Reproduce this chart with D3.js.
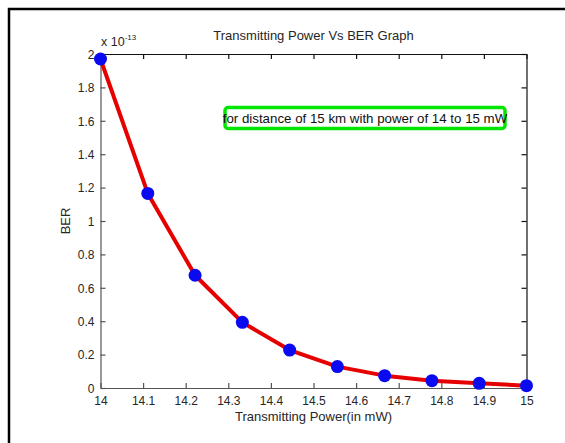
<!DOCTYPE html>
<html>
<head>
<meta charset="utf-8">
<script src="https://cdnjs.cloudflare.com/ajax/libs/d3/7.8.5/d3.min.js"></script>
<style>
  body { margin:0; background:#fff; }
  text { font-family: "Liberation Sans", Arial, sans-serif; fill:#262626; }
</style>
</head>
<body>
<div id="chart"></div>
<script>
// power values (mW) and BER (x 1e-13)
var power = [14, 14.111, 14.222, 14.333, 14.444, 14.556, 14.667, 14.778, 14.889, 15];
var ber = [1.97, 1.165, 0.675, 0.393, 0.227, 0.128, 0.074, 0.044, 0.028, 0.014];
var xTicks = [14, 14.1, 14.2, 14.3, 14.4, 14.5, 14.6, 14.7, 14.8, 14.9, 15];
var yTicks = [0, 0.2, 0.4, 0.6, 0.8, 1, 1.2, 1.4, 1.6, 1.8, 2];

var width = 565, height = 443;
var margin = {top: 54, right: 38.5, bottom: 55, left: 100.5};

var svg = d3.select("#chart").append("svg")
    .attr("width", width)
    .attr("height", height);

// outer frame (only top and left edges are visible in the crop)
svg.append("path")
    .attr("d", "M9,443 V9 H565")
    .style("fill", "none")
    .style("stroke", "#000")
    .style("stroke-width", 2.5);

var x = d3.scaleLinear()
    .domain([14, 15])
    .range([margin.left, width - margin.right]);
var y = d3.scaleLinear()
    .domain([0, 2])
    .range([height - margin.bottom, margin.top]);

var tickFmt = function(d) { return d3.format("~g")(d); };

// bottom axis
var xAxis = svg.append("g")
    .attr("transform", "translate(0," + y(0) + ")")
    .call(d3.axisBottom(x).tickValues(xTicks).tickSizeInner(-5).tickSizeOuter(0).tickPadding(8).tickFormat(tickFmt));
// left axis
var yAxis = svg.append("g")
    .attr("transform", "translate(" + x(14) + ",0)")
    .call(d3.axisLeft(y).tickValues(yTicks).tickSizeInner(-5).tickSizeOuter(0).tickPadding(6).tickFormat(tickFmt));
// top and right (box)
var xTop = svg.append("g")
    .attr("transform", "translate(0," + y(2) + ")")
    .call(d3.axisTop(x).tickValues(xTicks).tickSizeInner(-5).tickSizeOuter(0).tickFormat(""));
var yRight = svg.append("g")
    .attr("transform", "translate(" + x(15) + ",0)")
    .call(d3.axisRight(y).tickValues(yTicks).tickSizeInner(-5).tickSizeOuter(0).tickFormat(""));

[xAxis, yAxis].forEach(function(g) {
  g.selectAll("path, line").style("stroke", "#555").style("stroke-width", 1.2);
  g.selectAll("text").style("font-size", "12px").style("fill", "#262626")
    .style("font-family", "'Liberation Sans', Arial, sans-serif");
});
[xTop, yRight].forEach(function(g) {
  g.selectAll("path, line").style("stroke", "#111").style("stroke-width", 1.2);
});
yAxis.selectAll("text").attr("dy", "0.35em");

// curve
var line = d3.line()
    .x(function(d, i) { return x(power[i]); })
    .y(function(d) { return y(d); });

svg.append("path")
    .datum(ber)
    .attr("d", line)
    .style("fill", "none")
    .style("stroke", "#e60000")
    .style("stroke-width", 4)
    .style("stroke-linejoin", "round");

svg.selectAll(".pt")
    .data(ber)
    .enter().append("circle")
    .attr("class", "pt")
    .attr("cx", function(d, i) { return x(power[i]); })
    .attr("cy", function(d) { return y(d); })
    .attr("r", 6.5)
    .style("fill", "#0a0af0");

// exponent label
var ex = svg.append("text")
    .attr("x", 101)
    .attr("y", 46)
    .style("font-size", "12.5px");
ex.append("tspan").text("x 10");
ex.append("tspan").attr("dy", -6).style("font-size", "8px").text("-13");

// title and axis labels
svg.append("text")
    .attr("x", (x(14) + x(15)) / 2)
    .attr("y", 40)
    .attr("text-anchor", "middle")
    .style("font-size", "13px")
    .text("Transmitting Power Vs BER Graph");

svg.append("text")
    .attr("x", (x(14) + x(15)) / 2)
    .attr("y", 421)
    .attr("text-anchor", "middle")
    .style("font-size", "13px")
    .text("Transmitting Power(in mW)");

svg.append("text")
    .attr("transform", "translate(70," + y(1) + ") rotate(-90)")
    .attr("text-anchor", "middle")
    .style("font-size", "13px")
    .text("BER");

// annotation box
svg.append("rect")
    .attr("x", 225)
    .attr("y", 107.5)
    .attr("width", 280)
    .attr("height", 21)
    .attr("rx", 3)
    .style("fill", "#fff")
    .style("stroke", "#00e600")
    .style("stroke-width", 3.5);

svg.append("text")
    .attr("x", 365)
    .attr("y", 123)
    .attr("text-anchor", "middle")
    .style("font-size", "13.3px")
    .style("fill", "#111")
    .text("for distance of 15 km with power of 14 to 15 mW");
</script>
</body>
</html>
